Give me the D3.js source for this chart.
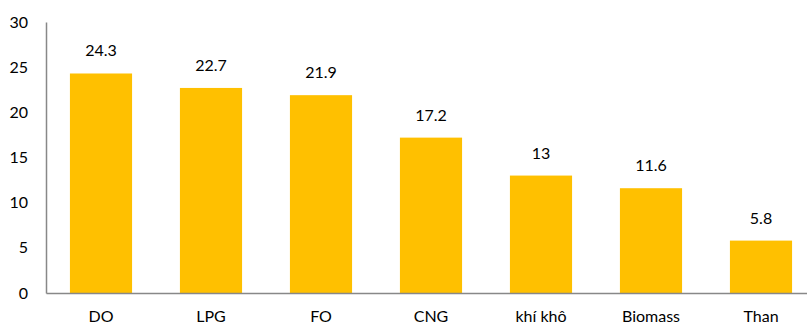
<!DOCTYPE html>
<html>
<head>
<meta charset="utf-8">
<script src="https://cdn.jsdelivr.net/npm/d3@7"></script>
<style>
  body { margin: 0; background: #fff; }
  text { font-family: Lato, "Open Sans", sans-serif; fill: #000; }
</style>
</head>
<body>
<div id="chart"></div>
<script>
var categories = ["DO", "LPG", "FO", "CNG", "khí khô", "Biomass", "Than"];
var values = [24.3, 22.7, 21.9, 17.2, 13, 11.6, 5.8];
var yTicks = [0, 5, 10, 15, 20, 25, 30];

var width = 807, height = 324;
var svg = d3.select("#chart").append("svg")
  .attr("width", width)
  .attr("height", height);

var x = d3.scaleBand()
  .domain(categories)
  .range([46, 816])
  .paddingInner(0.435)
  .paddingOuter(0.2175);

var y = d3.scaleLinear()
  .domain([0, 30])
  .range([293, 22]);

// bars
svg.selectAll("rect.bar")
  .data(values)
  .enter()
  .append("rect")
  .attr("class", "bar")
  .attr("x", (d, i) => x(categories[i]))
  .attr("width", x.bandwidth())
  .attr("y", d => y(d))
  .attr("height", d => y(0) - y(d))
  .attr("fill", "#FFC000");

// value labels
svg.selectAll("text.val")
  .data(values)
  .enter()
  .append("text")
  .attr("class", "val")
  .attr("x", (d, i) => x(categories[i]) + x.bandwidth() / 2)
  .attr("y", d => y(d) - 17)
  .attr("text-anchor", "middle")
  .style("font-size", "16px")
  .text(d => d);

// y axis
var yAxis = svg.append("g")
  .attr("transform", "translate(46,0)")
  .call(d3.axisLeft(y).tickValues(yTicks).tickSize(0).tickPadding(18));
yAxis.select(".domain").attr("stroke", "#888").attr("stroke-width", 1.5);
yAxis.selectAll("text").style("font-size", "16px");

// x axis
var xAxis = svg.append("g")
  .attr("transform", "translate(0,293)")
  .call(d3.axisBottom(x).tickSize(0).tickPadding(18));
xAxis.select(".domain").attr("stroke", "#888").attr("stroke-width", 1.5);
xAxis.selectAll("text").style("font-size", "16px");
</script>
</body>
</html>
